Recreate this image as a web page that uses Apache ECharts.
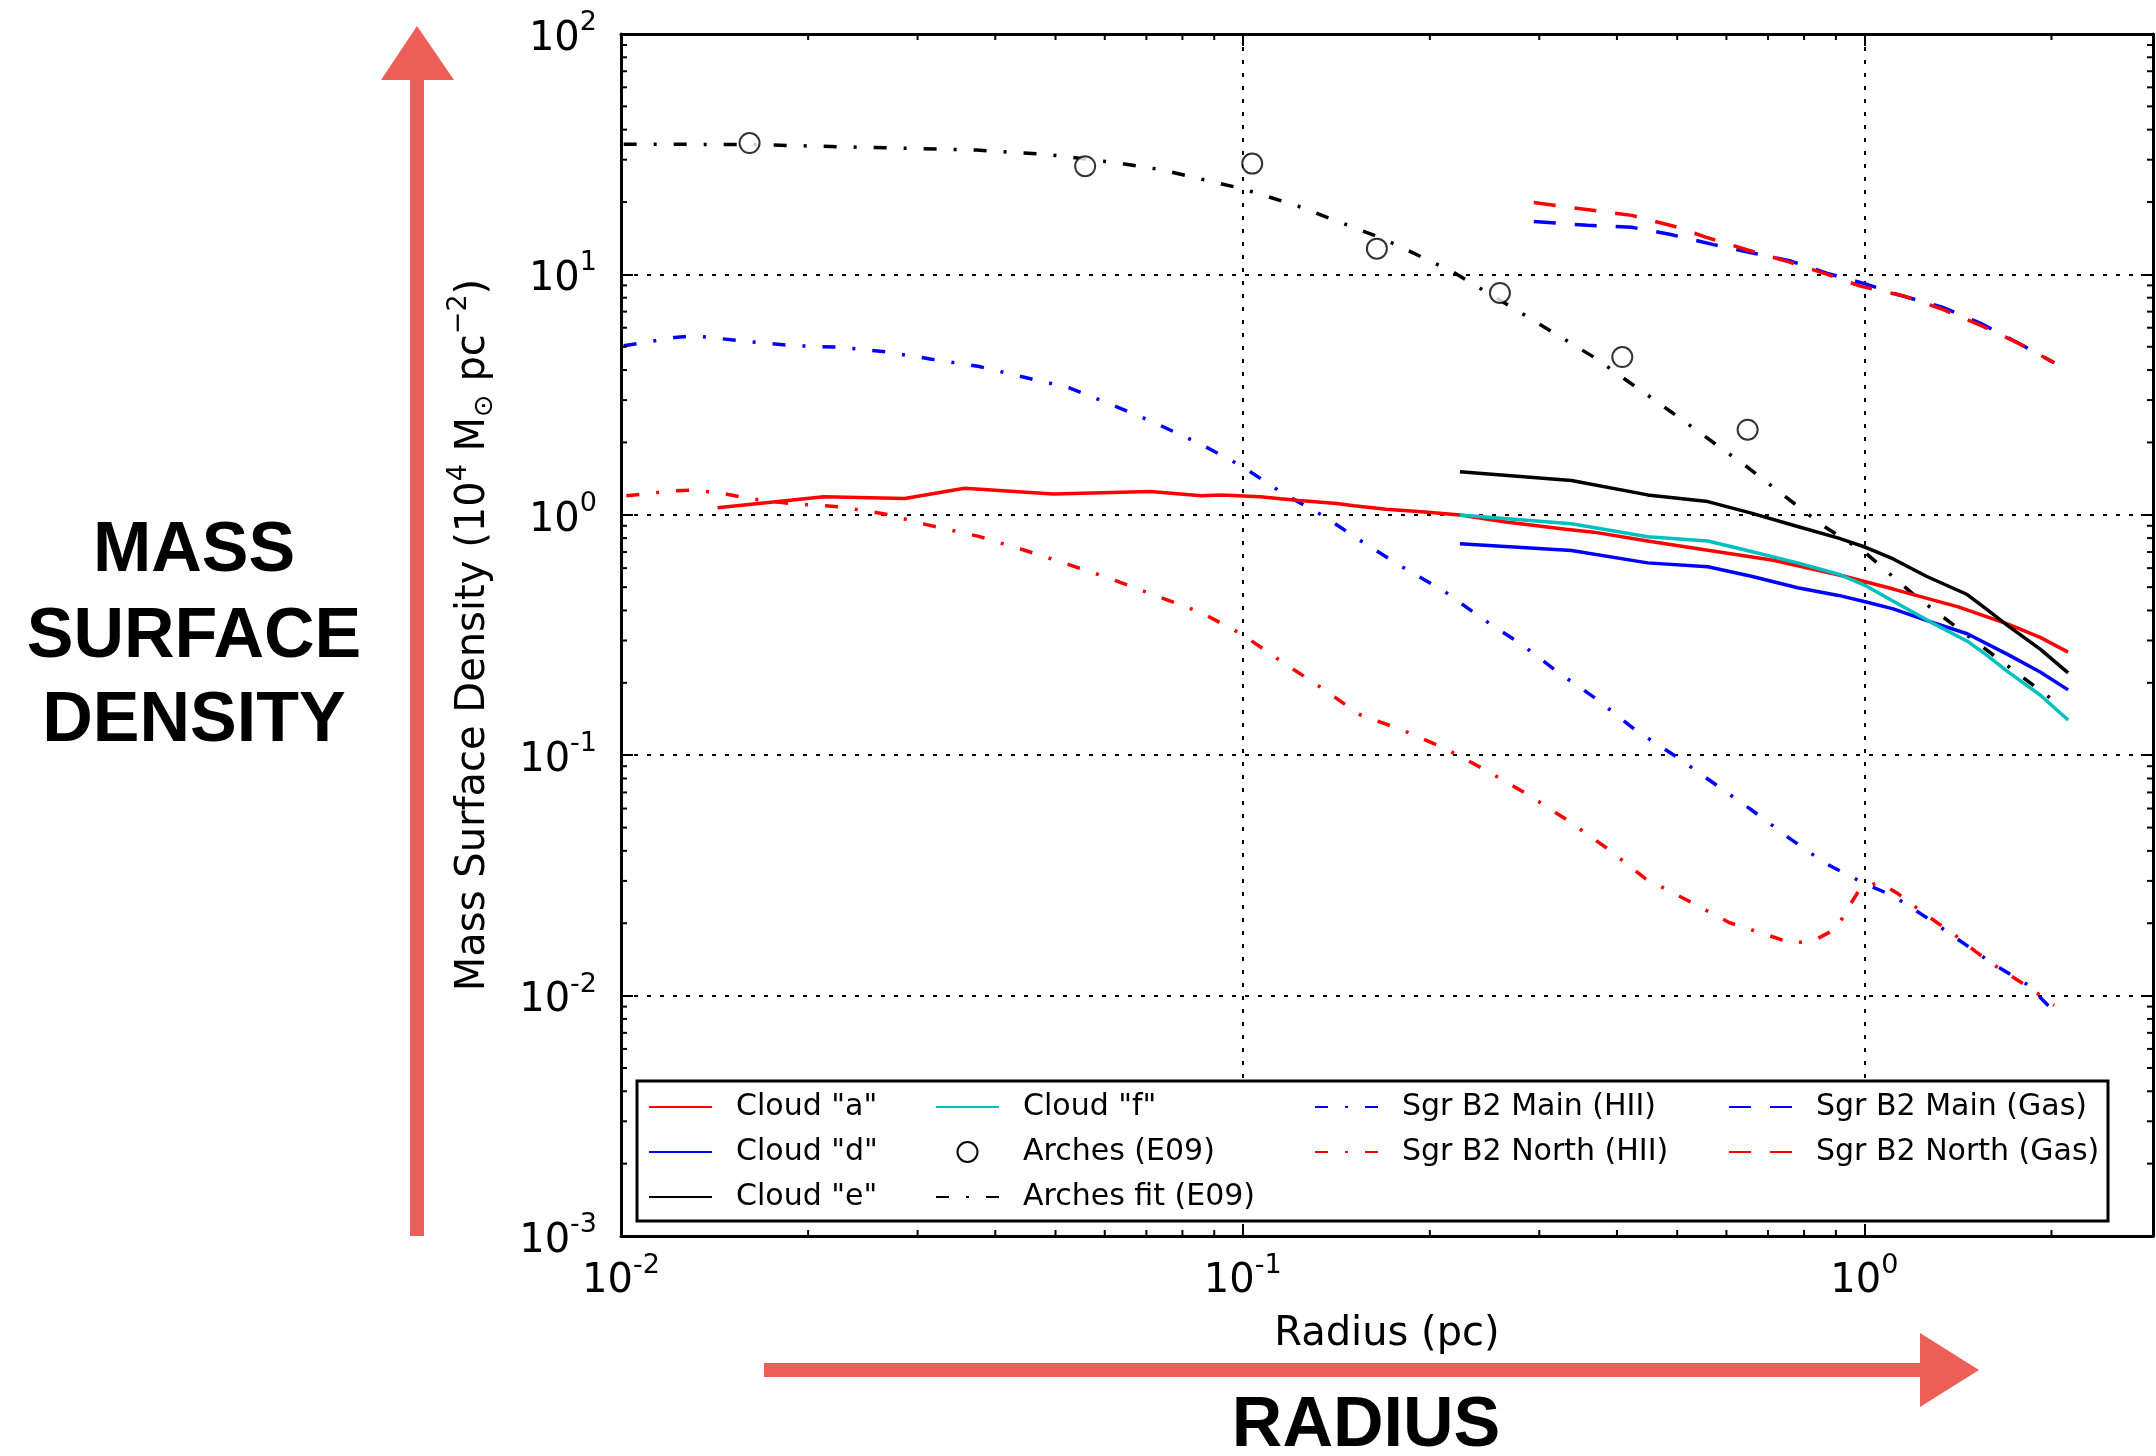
<!DOCTYPE html>
<html>
<head>
<meta charset="utf-8">
<title>Mass surface density vs radius</title>
<script src="https://cdn.jsdelivr.net/npm/echarts@6/dist/echarts.min.js"></script>
<style>
  html, body { margin: 0; padding: 0; background: #fff; }
  #main { width: 2156px; height: 1456px; }
</style>
</head>
<body>
<div id="main"></div>
<script>
// radius (pc) , surface density (1e4 Msun pc^-2)
const cloudA = [[0.0143, 1.07], [0.0212, 1.19], [0.0286, 1.17], [0.0357, 1.29], [0.0496, 1.22], [0.071, 1.25],
  [0.0858, 1.2], [0.0924, 1.21], [0.1067, 1.19], [0.115, 1.165], [0.1232, 1.147], [0.1418, 1.114], [0.151, 1.09],
  [0.170, 1.055], [0.1965, 1.028], [0.2236, 0.998], [0.2651, 0.934], [0.331, 0.871], [0.367, 0.847], [0.448, 0.778],
  [0.56, 0.7125], [0.714, 0.647], [0.929, 0.555], [1.113, 0.491], [1.416, 0.414], [1.703, 0.351], [1.918, 0.309],
  [2.127, 0.2685]]
const cloudD = [[0.2236, 0.758], [0.338, 0.71], [0.448, 0.631], [0.56, 0.608], [0.658, 0.555], [0.781, 0.497],
  [0.909, 0.462], [1.007, 0.434], [1.113, 0.406], [1.258, 0.364], [1.464, 0.320], [1.703, 0.262], [1.918, 0.222],
  [2.127, 0.187]]
const cloudE = [[0.2236, 1.51], [0.338, 1.39], [0.448, 1.21], [0.56, 1.135], [0.658, 1.016], [0.781, 0.894],
  [0.909, 0.80], [1.007, 0.731], [1.113, 0.655], [1.258, 0.555], [1.464, 0.466], [1.57, 0.406], [1.703, 0.345],
  [1.918, 0.276], [2.127, 0.220]]
const cloudF = [[0.2236, 0.998], [0.338, 0.917], [0.448, 0.81], [0.56, 0.778], [0.658, 0.704], [0.781, 0.631],
  [0.909, 0.566], [1.007, 0.506], [1.113, 0.437], [1.281, 0.357], [1.464, 0.298], [1.57, 0.262], [1.703, 0.222],
  [1.918, 0.178], [2.127, 0.140]]
const archesObs = [[0.0161, 35.2], [0.0558, 28.2], [0.1036, 28.9], [0.1644, 12.8], [0.2593, 8.37], [0.408, 4.53],
  [0.649, 2.26]]
const archesFit = [[0.0101, 34.8], [0.0161, 34.7], [0.0373, 32.9], [0.0487, 31.5], [0.0622, 29.2], [0.0737, 27.3],
  [0.100, 22.7], [0.123, 19.2], [0.169, 14.0], [0.217, 10.3], [0.271, 7.3], [0.367, 4.53], [0.486, 2.71],
  [0.646, 1.59], [0.856, 0.905], [1.007, 0.69], [1.207, 0.46], [1.507, 0.298], [1.996, 0.172]]
const mainHII = [[0.0101, 5.05], [0.0122, 5.46], [0.0131, 5.56], [0.0157, 5.28], [0.019, 5.05], [0.0225, 4.98],
  [0.0267, 4.76], [0.0316, 4.44], [0.0375, 4.15], [0.0442, 3.75], [0.0525, 3.38], [0.061, 2.90], [0.0723, 2.41],
  [0.0858, 1.96], [0.0998, 1.59], [0.116, 1.23], [0.135, 0.987], [0.157, 0.762], [0.181, 0.605], [0.211, 0.481],
  [0.2425, 0.371], [0.282, 0.287], [0.321, 0.222], [0.370, 0.172], [0.427, 0.128], [0.497, 0.099], [0.572, 0.0766],
  [0.658, 0.0593], [0.758, 0.0451], [0.866, 0.0355], [1.007, 0.029], [1.113, 0.026], [1.281, 0.0205], [1.39, 0.0177],
  [1.60, 0.0137], [1.84, 0.011], [1.995, 0.00885]]
const northHII = [[0.0102, 1.20], [0.0122, 1.26], [0.0131, 1.265], [0.0145, 1.23], [0.016, 1.17], [0.019, 1.11],
  [0.0225, 1.08], [0.0267, 1.006], [0.031, 0.91], [0.0375, 0.815], [0.0442, 0.717], [0.0515, 0.631], [0.061, 0.545],
  [0.0723, 0.462], [0.0858, 0.392], [0.0998, 0.318], [0.116, 0.2435], [0.135, 0.188], [0.1538, 0.148], [0.181, 0.127],
  [0.211, 0.107], [0.247, 0.0862], [0.2875, 0.0686], [0.335, 0.0531], [0.385, 0.0411], [0.445, 0.0306],
  [0.518, 0.025], [0.607, 0.0201], [0.706, 0.0177], [0.766, 0.0165], [0.831, 0.0170], [0.902, 0.019], [0.939, 0.0229],
  [0.985, 0.0279], [1.057, 0.0296], [1.134, 0.0265], [1.221, 0.0229], [1.31, 0.0201], [1.405, 0.0177],
  [1.507, 0.0153], [1.617, 0.0134], [1.862, 0.0106], [2.02, 0.0091]]
const mainGas = [[0.294, 16.6], [0.359, 16.0], [0.4225, 15.7], [0.486, 14.7], [0.572, 13.3], [0.658, 12.3],
  [0.758, 11.4], [0.872, 10.1], [1.007, 9.11], [1.134, 8.23], [1.334, 7.31], [1.536, 6.27], [1.768, 5.18], [2.02, 4.29]]
const northGas = [[0.294, 19.9], [0.342, 18.9], [0.4225, 17.6], [0.492, 15.9], [0.56, 14.2], [0.651, 12.6],
  [0.758, 11.25], [0.872, 10.0], [0.985, 8.94], [1.16, 8.12], [1.334, 7.17], [1.536, 6.15], [1.768, 5.18], [2.02, 4.29]]

const xMin = 0.01
const xMax = 2.913
const yMin = 0.001
const yMax = 100

const FONT = '"DejaVu Sans", sans-serif'
const ARROW = '#eb5f58'
const DASHDOT = [13, 17, 3, 17]
const DASHED = [22, 19]

const chart = echarts.init(document.getElementById('main'))

function lineSeries(name, data, color, dash) {
  return {
    name: name,
    type: 'line',
    data: data,
    symbol: 'none',
    smooth: false,
    lineStyle: { color: color, width: 3.5, type: dash || 'solid', cap: 'butt' },
    itemStyle: { color: color },
    z: 3
  }
}

// 10^n tick labels with a raised exponent
function powLabel(v) {
  const lg = Math.log10(v)
  const e = Math.round(lg)
  if (Math.abs(lg - e) > 1e-6) return ''
  return '{b|10}{s|' + (e < 0 ? '-' + (-e) : e) + '}'
}
const tickRich = {
  b: { fontSize: 40, fontFamily: FONT, color: '#000', padding: [11, 0, 0, 0] },
  s: { fontSize: 27, fontFamily: FONT, color: '#000', padding: [0, 0, 22, 0] }
}

const axisCommon = {
  type: 'log',
  logBase: 10,
  interval: 1,
  axisLine: { show: true, onZero: false, lineStyle: { color: '#000', width: 3 } },
  axisTick: { show: true, inside: true, length: 12, lineStyle: { color: '#000', width: 2 } }
}

const legendCommon = {
  orient: 'vertical',
  top: 1092,
  itemWidth: 63,
  itemHeight: 20,
  itemGap: 15,
  padding: 0,
  selectedMode: false,
  z: 10,
  // hide the default symbol drawn in the middle of line icons
  itemStyle: { opacity: 0 },
  textStyle: { fontSize: 30, fontFamily: FONT, color: '#000', lineHeight: 30, padding: [0, 0, 0, 19] }
}

const option = {
  animation: false,
  backgroundColor: '#fff',
  grid: { left: 621, top: 34, width: 1534, height: 1202 },
  xAxis: [
    Object.assign({}, axisCommon, {
      min: xMin, max: xMax, position: 'bottom',
      axisLabel: { formatter: powLabel, rich: tickRich, margin: 15 },
      splitLine: { show: true, lineStyle: { color: '#000', width: 2, type: [4, 9] } },
      name: 'Radius (pc)',
      nameLocation: 'middle',
      nameGap: 79,
      nameTextStyle: { fontSize: 40, fontFamily: FONT, color: '#000' }
    }),
    Object.assign({}, axisCommon, {
      min: xMin, max: xMax, position: 'top',
      axisLabel: { show: false }, splitLine: { show: false }
    })
  ],
  yAxis: [
    Object.assign({}, axisCommon, {
      min: yMin, max: yMax, position: 'left',
      axisLabel: { formatter: powLabel, rich: tickRich, margin: 24 },
      splitLine: { show: true, lineStyle: { color: '#000', width: 2, type: [4, 9] } },
      name: 'Mass Surface Density (10{sup|4} M{sub|⊙} pc{sup|−2})',
      nameLocation: 'middle',
      nameRotate: 90,
      nameGap: 119,
      nameTextStyle: {
        fontSize: 40, fontFamily: FONT, color: '#000',
        rich: {
          sup: { fontSize: 27, fontFamily: FONT, color: '#000', padding: [0, 0, 30, 0] },
          sub: { fontSize: 27, fontFamily: FONT, color: '#000', padding: [22, 0, 0, 0] }
        }
      }
    }),
    Object.assign({}, axisCommon, {
      min: yMin, max: yMax, position: 'right',
      axisLabel: { show: false }, splitLine: { show: false }
    })
  ],
  legend: [
    Object.assign({}, legendCommon, { left: 648, data: ['Cloud "a"', 'Cloud "d"', 'Cloud "e"'] }),
    Object.assign({}, legendCommon, {
      left: 935,
      data: ['Cloud "f"',
        { name: 'Arches (E09)', itemStyle: { opacity: 1, color: '#000' } },
        'Arches fit (E09)']
    }),
    Object.assign({}, legendCommon, { left: 1314, data: ['Sgr B2 Main (HII)', 'Sgr B2 North (HII)'] }),
    Object.assign({}, legendCommon, { left: 1728, data: ['Sgr B2 Main (Gas)', 'Sgr B2 North (Gas)'] })
  ],
  series: [
    lineSeries('Sgr B2 Main (HII)', mainHII, '#0000ff', DASHDOT),
    lineSeries('Sgr B2 North (HII)', northHII, '#ff0000', DASHDOT),
    lineSeries('Sgr B2 Main (Gas)', mainGas, '#0000ff', DASHED),
    lineSeries('Sgr B2 North (Gas)', northGas, '#ff0000', DASHED),
    lineSeries('Arches fit (E09)', archesFit, '#000000', DASHDOT),
    lineSeries('Cloud "a"', cloudA, '#ff0000'),
    lineSeries('Cloud "d"', cloudD, '#0000ff'),
    lineSeries('Cloud "e"', cloudE, '#000000'),
    lineSeries('Cloud "f"', cloudF, '#00bfbf'),
    {
      name: 'Arches (E09)',
      type: 'scatter',
      data: archesObs,
      symbol: 'emptyCircle',
      symbolSize: 20,
      itemStyle: { color: '#000', borderColor: '#000', borderWidth: 2 },
      z: 5
    }
  ]
}

chart.setOption(option)

// minor ticks at 2..9 x 10^n on all four sides, placed through the axes
const xL = chart.convertToPixel({ xAxisIndex: 0 }, xMin)
const xR = chart.convertToPixel({ xAxisIndex: 0 }, xMax)
const yB = chart.convertToPixel({ yAxisIndex: 0 }, yMin)
const yT = chart.convertToPixel({ yAxisIndex: 0 }, yMax)
const minorStyle = { stroke: '#000', lineWidth: 2 }
const deco = []
for (let e = -2; e <= 0; e++) {
  for (let m = 2; m <= 9; m++) {
    const v = m * Math.pow(10, e)
    if (v >= xMax) continue
    const px = chart.convertToPixel({ xAxisIndex: 0 }, v)
    deco.push({ type: 'line', shape: { x1: px, y1: yB, x2: px, y2: yB - 6 }, style: minorStyle, z: 4 })
    deco.push({ type: 'line', shape: { x1: px, y1: yT, x2: px, y2: yT + 6 }, style: minorStyle, z: 4 })
  }
}
for (let e = -3; e <= 1; e++) {
  for (let m = 2; m <= 9; m++) {
    const py = chart.convertToPixel({ yAxisIndex: 0 }, m * Math.pow(10, e))
    deco.push({ type: 'line', shape: { x1: xL, y1: py, x2: xL + 6, y2: py }, style: minorStyle, z: 4 })
    deco.push({ type: 'line', shape: { x1: xR, y1: py, x2: xR - 6, y2: py }, style: minorStyle, z: 4 })
  }
}

// legend frame
deco.push({ type: 'rect', shape: { x: 637, y: 1081, width: 1471, height: 140 },
  style: { fill: '#fff', stroke: '#000', lineWidth: 3 }, z: 6 })

// red annotation arrows
deco.push({ type: 'polygon', z: 1,
  shape: { points: [[410, 1236], [410, 80], [381, 80], [417, 26], [454, 80], [424, 80], [424, 1236]] },
  style: { fill: ARROW } })
deco.push({ type: 'polygon', z: 1,
  shape: { points: [[764, 1363], [1920, 1363], [1920, 1333], [1979, 1370], [1920, 1407], [1920, 1377], [764, 1377]] },
  style: { fill: ARROW } })

// big captions
const capFont = 'bold 70px "Liberation Sans", Arial, sans-serif'
const captions = [['MASS', 194, 552], ['SURFACE', 194, 638], ['DENSITY', 194, 722], ['RADIUS', 1366, 1427]]
captions.forEach(function (c) {
  deco.push({ type: 'text', x: c[1], y: c[2], z: 6,
    style: { text: c[0], font: capFont, fill: '#000', align: 'center', verticalAlign: 'middle' } })
})

chart.setOption({ graphic: { elements: deco } })
</script>
</body>
</html>
